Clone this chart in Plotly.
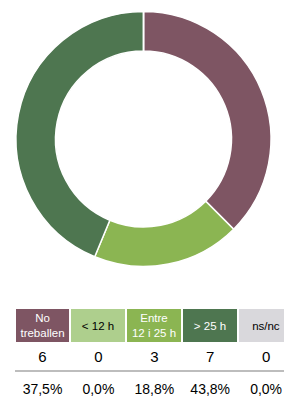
import plotly.graph_objects as go

# ---- data ----
categories = ["No<br>treballen", "< 12 h", "Entre<br>12 i 25 h", "> 25 h", "ns/nc"]
counts = [6, 0, 3, 7, 0]
percent_labels = ["37,5%", "0,0%", "18,8%", "43,8%", "0,0%"]

# ---- styles ----
colors = ["#7E5563", "#AECF8D", "#8BB552", "#4E7650", "#D9D8DC"]
header_text_colors = ["white", "black", "white", "white", "black"]
FONT = "Liberation Sans, Arial, sans-serif"

W, H = 284, 398
HEADER_TOP, HEADER_H = 309, 33
NUM_Y, LINE_Y, PCT_Y = 358, 371, 390

idx = list(range(len(categories)))

fig = go.Figure()

fig.add_trace(go.Pie(
    values=counts,
    labels=[c.replace("<br>", " ") for c in categories],
    marker=dict(colors=colors, line=dict(color="white", width=1.5)),
    hole=0.69,
    sort=False,
    direction="clockwise",
    rotation=0,
    textinfo="none",
    hoverinfo="label+value+percent",
    showlegend=False,
    domain=dict(x=[16 / W, 271 / W], y=[1 - 267 / H, 1 - 11 / H]),
))

fig.add_trace(go.Bar(
    x=idx,
    y=[HEADER_H] * len(idx),
    base=[HEADER_TOP] * len(idx),
    width=0.965,
    marker=dict(color=colors, line=dict(width=0)),
    text=categories,
    textposition="inside",
    insidetextanchor="middle",
    textangle=0,
    constraintext="none",
    textfont=dict(family=FONT, size=11.5, color=header_text_colors),
    hoverinfo="skip",
    showlegend=False,
))

fig.add_trace(go.Scatter(
    x=idx, y=[NUM_Y] * len(idx), mode="text",
    text=[str(c) for c in counts],
    textfont=dict(family=FONT, size=15, color="black"),
    hoverinfo="skip", showlegend=False, cliponaxis=False,
))

fig.add_trace(go.Scatter(
    x=idx, y=[PCT_Y] * len(idx), mode="text",
    text=percent_labels,
    textfont=dict(family=FONT, size=14, color="black"),
    hoverinfo="skip", showlegend=False, cliponaxis=False,
))

fig.add_shape(type="line", xref="paper", yref="y",
              x0=15 / W, x1=1, y0=LINE_Y, y1=LINE_Y,
              line=dict(color="#BDBDBD", width=2))

x0_px, step_px = 42.5, 55.9
fig.update_layout(
    width=W, height=H,
    margin=dict(l=0, r=0, t=0, b=0),
    paper_bgcolor="white", plot_bgcolor="white",
    xaxis=dict(range=[-x0_px / step_px, (W - x0_px) / step_px],
               visible=False, fixedrange=True),
    yaxis=dict(range=[H, 0], visible=False, fixedrange=True),
    bargap=0,
)

fig.write_html(
    "out.html",
    config={"displayModeBar": False},
    post_script="document.body.style.margin='0';document.body.style.overflow='hidden';",
)
